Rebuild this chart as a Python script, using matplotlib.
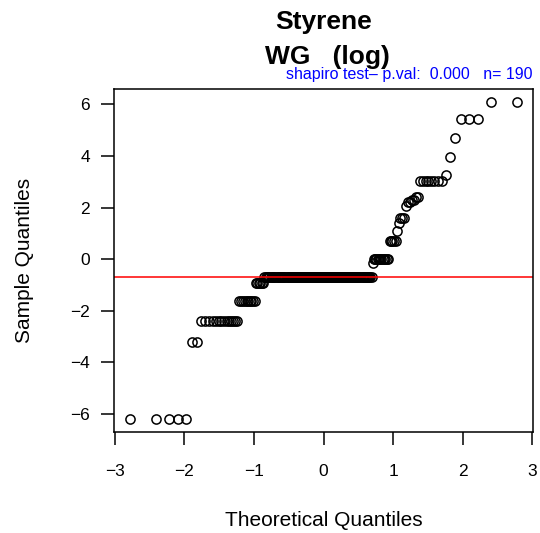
import numpy as np
import matplotlib
matplotlib.use("Agg")
import matplotlib.pyplot as plt
from statistics import NormalDist

# sample values (log scale) as levels and their counts
levels = [-6.2, -3.21, -2.38, -1.62, -0.92, -0.69, -0.16, 0.0, 0.69, 1.10, 1.39,
          1.61, 2.08, 2.20, 2.30, 2.40, 3.04, 3.26, 3.94, 4.68, 5.42, 6.10]
counts = [5, 2, 14, 10, 6, 107, 1, 12, 5, 1, 1,
          3, 1, 2, 2, 2, 8, 1, 1, 1, 3, 2]
title_lines = ["Styrene", "WG   (log)"]
subtitle = "shapiro test\u2013 p.val:  0.000   n= 190"

sample = np.sort(np.repeat(levels, counts))
n = len(sample)
nd = NormalDist()
p = (np.arange(1, n + 1) - 0.5) / n
theo = np.array([nd.inv_cdf(v) for v in p])
med = np.median(sample)

plt.rcParams['font.family'] = ['Liberation Sans', 'DejaVu Sans']
fig = plt.figure(figsize=(5.4, 5.33), dpi=100)
W, H = 540, 533
L, R, T, B = 114, 533, 89, 432
ax = fig.add_axes([L / W, 1 - B / H, (R - L) / W, (B - T) / H])

ax.plot(theo, sample, linestyle='none', marker='o', markersize=6.6,
        markerfacecolor='none', markeredgecolor='black', markeredgewidth=1.1)
ax.axhline(med, color='red', linewidth=1.1)

xr = theo.max() - theo.min()
yr = sample.max() - sample.min()
ax.set_xlim(theo.min() - 0.04 * xr, theo.max() + 0.04 * xr)
ax.set_ylim(sample.min() - 0.04 * yr, sample.max() + 0.04 * yr)
ax.set_xticks([-3, -2, -1, 0, 1, 2, 3])
ax.set_yticks([-6, -4, -2, 0, 2, 4, 6])
ax.set_xticklabels(['\u22123', '\u22122', '\u22121', '0', '1', '2', '3'])
ax.set_yticklabels(['\u22126', '\u22124', '\u22122', '0', '2', '4', '6'])
ax.tick_params(direction='out', length=9.4, width=1.1, labelsize=12.5)
ax.tick_params(axis='x', pad=14)
ax.tick_params(axis='y', pad=8)
for s in ax.spines.values():
    s.set_linewidth(1.1)

fig.text((L + R) / 2 / W, 1 - 521 / H, 'Theoretical Quantiles',
         ha='center', va='center', fontsize=15)
fig.text(25 / W, 1 - 260 / H, 'Sample Quantiles', rotation=90,
         ha='center', va='center', fontsize=15)

cx = (L + R) / 2 / W
fig.text(cx, 1 - 22 / H, title_lines[0], ha='center', va='center',
         fontsize=19, fontweight='bold')
fig.text(cx + 4 / W, 1 - 57 / H, title_lines[1], ha='center', va='center',
         fontsize=19, fontweight='bold')
fig.text(R / W, 1 - 75 / H, subtitle, ha='right', va='center',
         fontsize=11.5, color='blue')

fig.savefig('out.png', dpi=100)
